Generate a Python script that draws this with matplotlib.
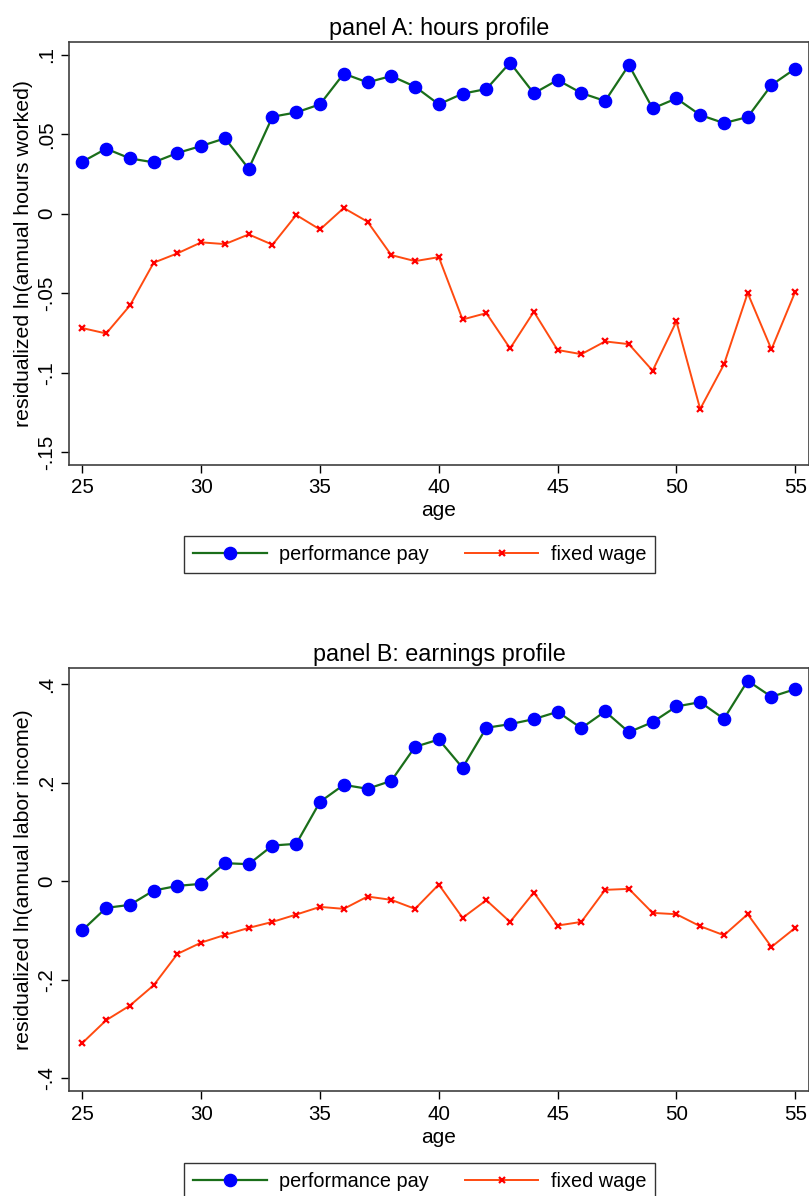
import matplotlib
matplotlib.use("Agg")
import matplotlib.pyplot as plt
import numpy as np

plt.rcParams['font.family'] = ['Liberation Sans', 'DejaVu Sans']

ages = list(range(25, 56))

hours_perf = [0.0327, 0.0409, 0.0348, 0.0323, 0.0382, 0.0426, 0.0474, 0.0283, 0.0610, 0.0637,
              0.0688, 0.0881, 0.0826, 0.0866, 0.0799, 0.0688, 0.0755, 0.0784, 0.0950, 0.0757,
              0.0841, 0.0759, 0.0709, 0.0935, 0.0662, 0.0725, 0.0621, 0.0570, 0.0608, 0.0809,
              0.0912]
hours_fixed = [-0.0719, -0.0753, -0.0577, -0.0308, -0.0249, -0.0180, -0.0191, -0.0130, -0.0195, -0.0008,
               -0.0099, 0.0036, -0.0050, -0.0260, -0.0298, -0.0273, -0.0665, -0.0625, -0.0847, -0.0616,
               -0.0857, -0.0883, -0.0803, -0.0820, -0.0987, -0.0677, -0.1228, -0.0948, -0.0499, -0.0853,
               -0.0491]

earn_perf = [-0.0996, -0.0542, -0.0481, -0.0190, -0.0095, -0.0054, 0.0366, 0.0346, 0.0725, 0.0759,
             0.1612, 0.1958, 0.1877, 0.2039, 0.2730, 0.2879, 0.2304, 0.3117, 0.3191, 0.3293,
             0.3442, 0.3110, 0.3449, 0.3028, 0.3232, 0.3550, 0.3638, 0.3299, 0.4072, 0.3747,
             0.3902]
earn_fixed = [-0.3286, -0.2825, -0.2527, -0.2114, -0.1477, -0.1247, -0.1091, -0.0949, -0.0827, -0.0678,
              -0.0522, -0.0562, -0.0312, -0.0379, -0.0562, -0.0068, -0.0745, -0.0386, -0.0827, -0.0230,
              -0.0901, -0.0827, -0.0176, -0.0156, -0.0644, -0.0671, -0.0915, -0.1098, -0.0671, -0.1335,
              -0.0949]

x_ticks = [25, 30, 35, 40, 45, 50, 55]
hours_ticks = [0.1, 0.05, 0, -0.05, -0.1, -0.15]
hours_ticklabels = ['.1', '.05', '0', '-.05', '-.1', '-.15']
earn_ticks = [0.4, 0.2, 0, -0.2, -0.4]
earn_ticklabels = ['.4', '.2', '0', '-.2', '-.4']

W, H = 809, 1196
fig = plt.figure(figsize=(W / 100, H / 100), dpi=100)

green = '#1a6e1a'
orange = '#ff4a10'


def panel(rect, perf, fixed, title, ylabel, ylim, yticks, yticklabels, leg_y):
    ax = fig.add_axes(rect)
    ax.plot(ages, perf, color=green, lw=1.6, marker='o', ms=8.8, mfc='#0000ff', mec='#0000ff',
            label='performance pay')
    ax.plot(ages, fixed, color=orange, lw=1.4, marker='x', ms=5, mec='#ff0000', mew=1.6,
            label='fixed wage')
    ax.set_xlim(24.45, 55.56)
    ax.set_ylim(*ylim)
    ax.set_xticks(x_ticks)
    ax.set_yticks(yticks)
    ax.set_yticklabels(yticklabels, rotation=90, va='center')
    ax.tick_params(direction='out', length=6, width=1, labelsize=14.8, colors='#000000', pad=3.5)
    for s in ax.spines.values():
        s.set_color('#404040')
        s.set_linewidth(1.2)
    ax.set_title(title, fontsize=16.8, pad=5)
    ax.set_xlabel('age', fontsize=15, labelpad=3)
    ax.set_ylabel(ylabel, fontsize=15.3, labelpad=3)
    leg = fig.legend(handles=ax.get_lines(), loc='center', bbox_to_anchor=(0.519, leg_y), ncol=2,
                     fontsize=14.3, frameon=True, fancybox=False, edgecolor='black',
                     handlelength=3.7, columnspacing=1.8, borderpad=0.45, handletextpad=0.63,
                     borderaxespad=0)
    leg.get_frame().set_linewidth(1.0)
    return ax


panel([0.0857, 0.6112, 0.9137, 0.3537], hours_perf, hours_fixed, 'panel A: hours profile',
      'residualized ln(annual hours worked)', (-0.158, 0.108), hours_ticks, hours_ticklabels, 0.5364)
panel([0.0857, 0.0875, 0.9137, 0.3539], earn_perf, earn_fixed, 'panel B: earnings profile',
      'residualized ln(annual labor income)', (-0.427, 0.433), earn_ticks, earn_ticklabels, 0.0121)

fig.savefig('out.png', dpi=100, facecolor='white')
